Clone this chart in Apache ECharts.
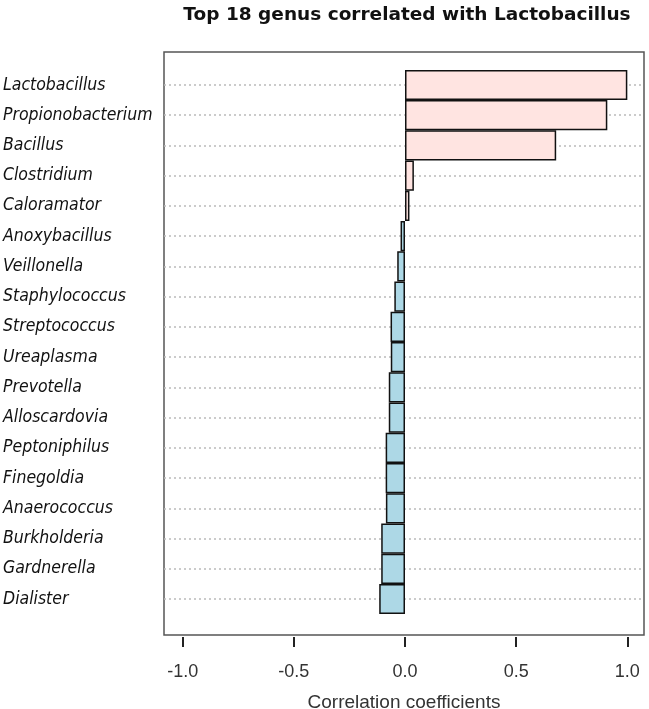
<!DOCTYPE html>
<html><head><meta charset="utf-8">
<script src="https://cdn.jsdelivr.net/npm/echarts@6/dist/echarts.min.js"></script>
<style>html,body{margin:0;padding:0;background:#fff}#c{width:649px;height:709px}</style>
</head><body><div id="c"></div>
<script>
const genera = ['Lactobacillus','Propionobacterium','Bacillus','Clostridium','Caloramator','Anoxybacillus','Veillonella','Staphylococcus','Streptococcus','Ureaplasma','Prevotella','Alloscardovia','Peptoniphilus','Finegoldia','Anaerococcus','Burkholderia','Gardnerella','Dialister'];
const coefficients = [1.0, 0.91, 0.68, 0.04, 0.02, -0.02, -0.035, -0.048, -0.065, -0.064, -0.073, -0.073, -0.087, -0.087, -0.086, -0.107, -0.107, -0.116];
const xTickValues = [-1.0, -0.5, 0.0, 0.5, 1.0];
const posColor = '#ffe4e1', negColor = '#add8e6';

const chart = echarts.init(document.getElementById('c'), null, {renderer:'canvas'});
chart.setOption({
  animation: false,
  backgroundColor: '#fff',
  title: {
    text: 'Top 18 genus correlated with Lactobacillus',
    left: 402, top: 1, textAlign: 'center',
    textStyle: {fontFamily: 'DejaVu Sans', fontWeight: 'bold', fontSize: 18.5, color: '#111'}
  },
  grid: [
    {left: 164, right: 5, top: 85, height: 514, outerBoundsMode: 'none', containLabel: false},
    {left: 164, right: 5, top: 52, height: 583, outerBoundsMode: 'none', containLabel: false, show: true, borderColor: '#555', borderWidth: 1.5, backgroundColor: 'transparent'}
  ],
  xAxis: [
    {
      gridIndex: 0, type: 'value', min: -1.084, max: 1.075, position: 'bottom', offset: 38,
      axisLine: {show: false},
      axisTick: {show: true, length: 10, customValues: xTickValues, lineStyle: {color: '#222', width: 2}},
      axisLabel: {customValues: xTickValues, formatter: v => v.toFixed(1), fontFamily: 'Liberation Sans', fontSize: 18, color: '#333', margin: 26},
      splitLine: {show: false},
      name: 'Correlation coefficients', nameLocation: 'middle', nameGap: 56,
      nameTextStyle: {fontFamily: 'Liberation Sans', fontSize: 19, color: '#333'}
    },
    {gridIndex: 1, type: 'value', show: false, min: 0, max: 1}
  ],
  yAxis: [
    {
      gridIndex: 0, type: 'category', inverse: true, data: genera, boundaryGap: false,
      axisLine: {show: false}, axisTick: {show: false},
      axisLabel: {align: 'left', margin: 161, fontFamily: 'DejaVu Sans Condensed', fontStyle: 'italic', fontSize: 17.5, color: '#111'},
      splitLine: {show: true, lineStyle: {type: [2, 3], color: '#bbb', width: 1.5}}
    },
    {gridIndex: 1, type: 'value', show: false, min: 0, max: 1}
  ],
  series: [{
    type: 'bar', xAxisIndex: 0, yAxisIndex: 0, clip: false,
    barCategoryGap: '0%',
    data: coefficients.map(v => ({value: v, itemStyle: {color: v >= 0 ? posColor : negColor}})),
    itemStyle: {borderColor: '#111', borderWidth: 1.5}
  }]
});
</script></body></html>
